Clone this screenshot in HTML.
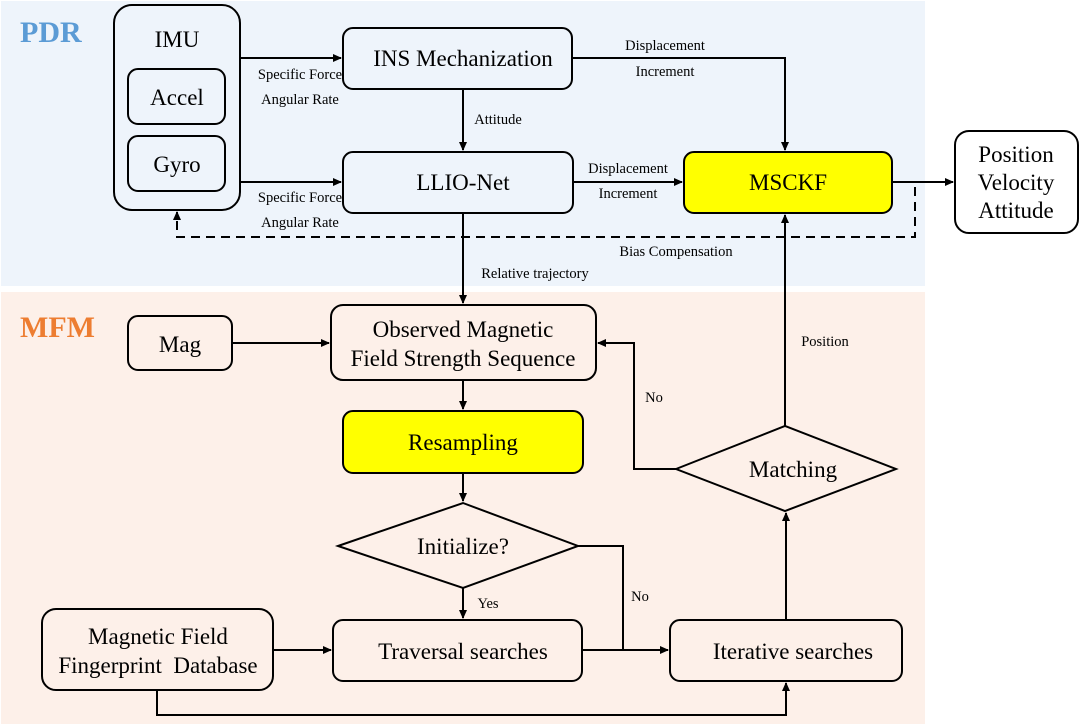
<!DOCTYPE html>
<html><head><meta charset="utf-8"><style>body{margin:0}svg{display:block}svg text{font-family:"Liberation Serif","Times New Roman",Times,"DejaVu Serif","Noto Serif CJK SC",serif}</style></head><body>
<svg width="1080" height="725" viewBox="0 0 1080 725" xmlns="http://www.w3.org/2000/svg">
<defs><marker id="a" markerWidth="10" markerHeight="10" refX="8" refY="4" orient="auto" markerUnits="userSpaceOnUse"><path d="M0,0 L9,4 L0,8 z" fill="#000"/></marker></defs>
<rect width="1080" height="725" fill="#fff"/>
<rect x="1" y="1" width="924" height="285" fill="#eef4fb"/>
<rect x="1" y="292" width="924" height="432" fill="#fdf0e9"/>
<text x="20" y="42" font-size="30" font-weight="bold" fill="#5b9bd5">PDR</text>
<text x="20" y="337" font-size="30" font-weight="bold" fill="#ed7d31">MFM</text>
<g fill="none" stroke="#000" stroke-width="2">
<rect x="114" y="5" width="126" height="205" rx="18"/>
<rect x="128" y="69" width="97" height="55" rx="10"/>
<rect x="128" y="136" width="97" height="55" rx="10"/>
<rect x="343" y="28" width="229" height="61" rx="10"/>
<rect x="343" y="152" width="230" height="61" rx="10"/>
<rect x="684" y="152" width="208" height="61" rx="10" fill="#ffff00"/>
<rect x="955" y="131" width="123" height="102" rx="14" fill="#fff"/>
<rect x="331" y="305" width="265" height="75" rx="12"/>
<rect x="128" y="316" width="104" height="54" rx="10"/>
<rect x="343" y="411" width="240" height="62" rx="10" fill="#ffff00"/>
<polygon points="338,546 463,503 578,546 463,588"/>
<rect x="333" y="620" width="249" height="61" rx="10"/>
<rect x="670" y="620" width="232" height="61" rx="10"/>
<polygon points="676,469 785,426 896,469 785,511"/>
<rect x="42" y="609" width="231" height="81" rx="14"/>
<path d="M240,58 H341" marker-end="url(#a)"/>
<path d="M240,182 H341" marker-end="url(#a)"/>
<path d="M572,58 H785 V150" marker-end="url(#a)"/>
<path d="M463,89 V150" marker-end="url(#a)"/>
<path d="M573,182 H682" marker-end="url(#a)"/>
<path d="M892,182 H953" marker-end="url(#a)"/>
<path d="M915,187 V237 H177 V212" stroke-dasharray="9,6" marker-end="url(#a)"/>
<path d="M463,213 V303" marker-end="url(#a)"/>
<path d="M232,343 H329" marker-end="url(#a)"/>
<path d="M463,380 V409" marker-end="url(#a)"/>
<path d="M463,473 V501" marker-end="url(#a)"/>
<path d="M463,588 V618" marker-end="url(#a)"/>
<path d="M578,546 H623 V650"/>
<path d="M582,650 H668" marker-end="url(#a)"/>
<path d="M786,620 V513" marker-end="url(#a)"/>
<path d="M785,426 V215" marker-end="url(#a)"/>
<path d="M676,469 H634 V343 H598" marker-end="url(#a)"/>
<path d="M273,650 H331" marker-end="url(#a)"/>
<path d="M157,690 V715 H786 V683" marker-end="url(#a)"/>
</g>
<g font-size="23" text-anchor="middle" fill="#000">
<text x="177" y="47">IMU</text>
<text x="177" y="105">Accel</text>
<text x="177" y="172">Gyro</text>
<text x="463" y="66">INS Mechanization</text>
<text x="463" y="190">LLIO-Net</text>
<text x="788" y="190">MSCKF</text>
<text x="1016" y="162">Position</text>
<text x="1016" y="190">Velocity</text>
<text x="1016" y="218">Attitude</text>
<text x="463" y="337">Observed Magnetic</text>
<text x="463" y="366">Field Strength Sequence</text>
<text x="180" y="352">Mag</text>
<text x="463" y="450">Resampling</text>
<text x="463" y="554">Initialize?</text>
<text x="463" y="659">Traversal searches</text>
<text x="793" y="659">Iterative searches</text>
<text x="793" y="477">Matching</text>
<text x="158" y="644">Magnetic Field</text>
<text x="158" y="673">Fingerprint&#160; Database</text>
</g>
<g font-size="14.5" text-anchor="middle" fill="#000">
<text x="300" y="79">Specific Force</text>
<text x="300" y="104">Angular Rate</text>
<text x="300" y="202">Specific Force</text>
<text x="300" y="227">Angular Rate</text>
<text x="665" y="50">Displacement</text>
<text x="665" y="76">Increment</text>
<text x="498" y="124">Attitude</text>
<text x="628" y="173">Displacement</text>
<text x="628" y="198">Increment</text>
<text x="676" y="256">Bias Compensation</text>
<text x="535" y="278">Relative trajectory</text>
<text x="825" y="346">Position</text>
<text x="654" y="402">No</text>
<text x="640" y="601">No</text>
<text x="488" y="608">Yes</text>
</g>
</svg>
</body></html>
